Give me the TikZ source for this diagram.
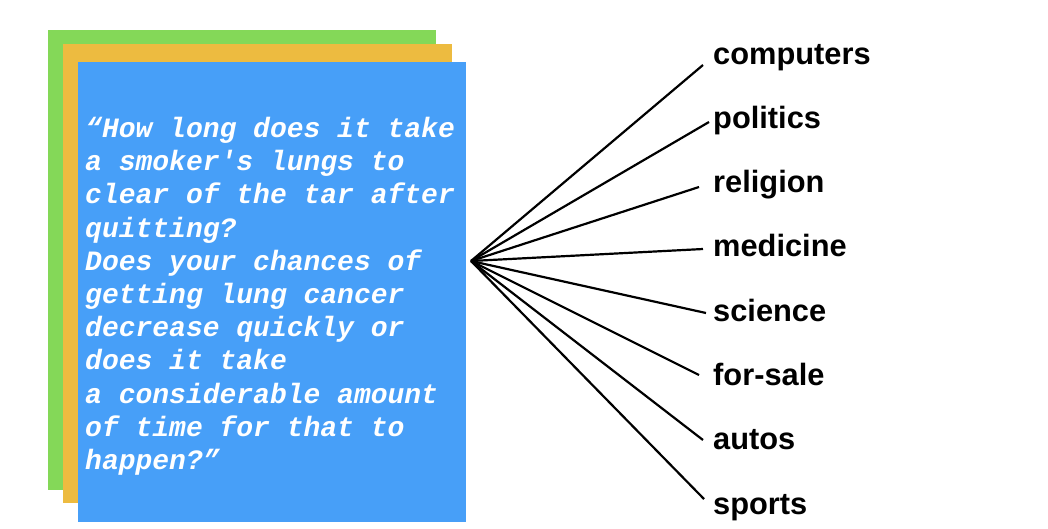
\documentclass[tikz,border=0pt]{standalone}
\usepackage{fontspec}
\setmainfont{Liberation Sans}
\newfontfamily\postfont[Ligatures=TeXOff]{Liberation Mono}
\definecolor{cardgreen}{RGB}{132,216,88}
\definecolor{cardorange}{RGB}{237,187,64}
\definecolor{cardblue}{RGB}{71,159,248}

\begin{document}
\begin{tikzpicture}[x=1pt,y=-1pt,
  topic/.style={anchor=base west,inner sep=0pt,font=\fontsize{30.8}{36}\selectfont\bfseries},
  spoke/.style={line width=2.2pt}]
\useasboundingbox (0,0) rectangle (1048,528);
\fill[cardgreen] (48,30) rectangle (436,490);
\fill[cardorange] (63,44) rectangle (452,503);
\fill[cardblue] (78,62) rectangle (466,522);
\node[anchor=north west,inner sep=0pt,align=left,text=white,
  font=\postfont\bfseries\itshape\fontsize{28}{33.2}\selectfont] (post) at (85,117)
  {“How long does it take\\a smoker's lungs to\\clear of the tar after\\quitting?\\Does your chances of\\getting lung cancer\\decrease quickly or\\does it take\\a considerable amount\\of time for that to\\happen?”};
\coordinate (hub) at (471,261);
\foreach \t/\i/\ex/\ey in {computers/0/703/65,politics/1/709/122,religion/2/699/187,medicine/3/703/249,
  science/4/706/313,for-sale/5/699/375,autos/6/703/440,sports/7/704/499}{
  \node[topic] (\t) at (713,64+64.3*\i) {\t};
  \coordinate (\t-end) at (\ex,\ey);
  \draw[spoke] (hub)--(\t-end);}
\end{tikzpicture}
\end{document}
